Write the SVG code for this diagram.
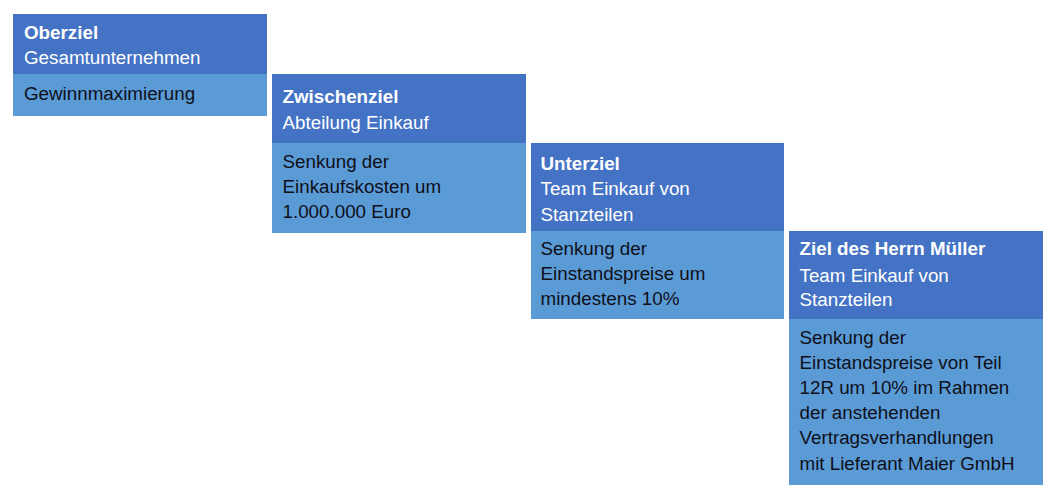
<svg xmlns="http://www.w3.org/2000/svg" width="1059" height="498" viewBox="0 0 1059 498">
<style>
.hd{fill:#4472C4}
.bd{fill:#5B9BD5}
text{font-family:"Liberation Sans",Arial,sans-serif;font-size:18.8px}
.t{fill:#FFFFFF;font-weight:bold}
.s{fill:#FFFFFF}
.b{fill:#0F0F1A}
</style>
<rect width="1059" height="498" fill="#FFFFFF"/>
<g id="connectors"></g>
<g id="oberziel">
<rect class="hd" x="13" y="14" width="254" height="60"/>
<rect class="bd" x="13" y="74" width="254" height="42"/>
<text class="t" x="24" y="38.5">Oberziel</text>
<text class="s" x="24" y="64">Gesamtunternehmen</text>
<text class="b" x="24" y="99.5">Gewinnmaximierung</text>
</g>
<g id="zwischenziel">
<rect class="hd" x="272" y="74" width="254" height="69"/>
<rect class="bd" x="272" y="143" width="254" height="90"/>
<text class="t" x="282.5" y="103">Zwischenziel</text>
<text class="s" x="282.5" y="128.5">Abteilung Einkauf</text>
<text class="b" x="282.5" y="167.5">Senkung der</text>
<text class="b" x="282.5" y="192.5">Einkaufskosten um</text>
<text class="b" x="282.5" y="217.5">1.000.000 Euro</text>
</g>
<g id="unterziel">
<rect class="hd" x="531" y="143" width="253" height="88"/>
<rect class="bd" x="531" y="231" width="253" height="88"/>
<text class="t" x="540.5" y="170">Unterziel</text>
<text class="s" x="540.5" y="195">Team Einkauf von</text>
<text class="s" x="540.5" y="220.5">Stanzteilen</text>
<text class="b" x="540.5" y="255">Senkung der</text>
<text class="b" x="540.5" y="280">Einstandspreise um</text>
<text class="b" x="540.5" y="305">mindestens 10%</text>
</g>
<g id="ziel-mueller">
<rect class="hd" x="789" y="231" width="254" height="88"/>
<rect class="bd" x="789" y="319" width="254" height="166"/>
<text class="t" x="799.5" y="255">Ziel des Herrn Müller</text>
<text class="s" x="799.5" y="281.5">Team Einkauf von</text>
<text class="s" x="799.5" y="306">Stanzteilen</text>
<text class="b" x="799.5" y="343.5">Senkung der</text>
<text class="b" x="799.5" y="368.5">Einstandspreise von Teil</text>
<text class="b" x="799.5" y="393.5">12R um 10% im Rahmen</text>
<text class="b" x="799.5" y="419">der anstehenden</text>
<text class="b" x="799.5" y="444">Vertragsverhandlungen</text>
<text class="b" x="799.5" y="469.5">mit Lieferant Maier GmbH</text>
</g>
</svg>
